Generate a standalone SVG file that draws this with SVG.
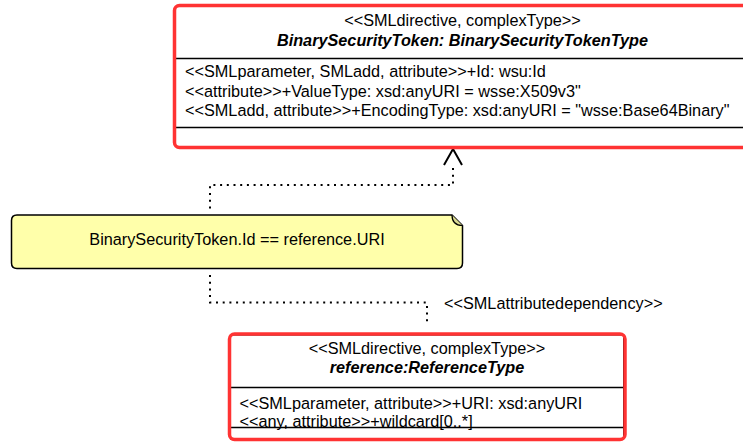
<svg xmlns="http://www.w3.org/2000/svg" width="743" height="442" viewBox="0 0 743 442">
  <style>
    text { font-family: "Liberation Sans", Arial, sans-serif; font-size: 16.25px; fill: #000; }
    .center { text-anchor: middle; }
    .title { font-weight: bold; font-style: italic; }
    .cls { fill: #fff; stroke: #000; stroke-width: 1; }
    .sep { stroke: #000; stroke-width: 1.5; }
    .hl { fill: none; stroke: #ff3333; stroke-width: 3.5; }
    .note { fill: #ffffaa; stroke: #000; stroke-width: 1.5; }
    .dep { fill: none; stroke: #000; stroke-width: 2; stroke-dasharray: 2 4.7; }
    .head { fill: none; stroke: #000; stroke-width: 2; }
  </style>

  <!-- connectors -->
  <g id="connectors">
    <path class="dep" d="M453,168 V185 H210 V212"/>
    <path class="head" d="M444,165 L453,149 L462,165"/>
    <path class="dep" d="M210,275 V302.5 H427 V326"/>
    <text x="444" y="308.5">&lt;&lt;SMLattributedependency&gt;&gt;</text>
  </g>

  <!-- BinarySecurityToken class -->
  <g id="binarySecurityToken">
    <rect class="cls" x="175.5" y="6.5" width="580" height="140"/>
    <line class="sep" x1="175.5" y1="58.5" x2="755" y2="58.5"/>
    <line class="sep" x1="175.5" y1="127.5" x2="755" y2="127.5"/>
    <text class="center" x="462.5" y="26">&lt;&lt;SMLdirective, complexType&gt;&gt;</text>
    <text class="center title" x="462.5" y="45.5">BinarySecurityToken: BinarySecurityTokenType</text>
    <text x="185" y="77">&lt;&lt;SMLparameter, SMLadd, attribute&gt;&gt;+Id: wsu:Id</text>
    <text x="185" y="96.5">&lt;&lt;attribute&gt;&gt;+ValueType: xsd:anyURI = wsse:X509v3"</text>
    <text x="185" y="116">&lt;&lt;SMLadd, attribute&gt;&gt;+EncodingType: xsd:anyURI = "wsse:Base64Binary"</text>
    <rect class="hl" x="174.5" y="5.5" width="582" height="142" rx="5"/>
  </g>

  <!-- constraint note -->
  <g id="constraintNote">
    <path class="note" d="M17,215 H452 L462.5,225.5 V263 Q462.5,268.5 457,268.5 H17 Q11.5,268.5 11.5,263 V220.5 Q11.5,215 17,215 Z"/>
    <path d="M452,215 Q452,225.5 462.5,225.5" fill="#d8d890" stroke="#000" stroke-width="1.2"/>
    <text class="center" x="237" y="244.5">BinarySecurityToken.Id == reference.URI</text>
  </g>

  <!-- reference class -->
  <g id="referenceType">
    <rect class="cls" x="230.5" y="335" width="393" height="104"/>
    <line class="sep" x1="230.5" y1="387.5" x2="623.5" y2="387.5"/>
    <line class="sep" x1="230.5" y1="427.5" x2="623.5" y2="427.5"/>
    <text class="center" x="427" y="353.5">&lt;&lt;SMLdirective, complexType&gt;&gt;</text>
    <text class="center title" x="427" y="373">reference:ReferenceType</text>
    <text x="239.5" y="408.5">&lt;&lt;SMLparameter, attribute&gt;&gt;+URI: xsd:anyURI</text>
    <text x="239.5" y="427">&lt;&lt;any, attribute&gt;&gt;+wildcard[0..*]</text>
    <rect class="hl" x="229.5" y="334" width="395.5" height="105.5" rx="5"/>
  </g>
</svg>
